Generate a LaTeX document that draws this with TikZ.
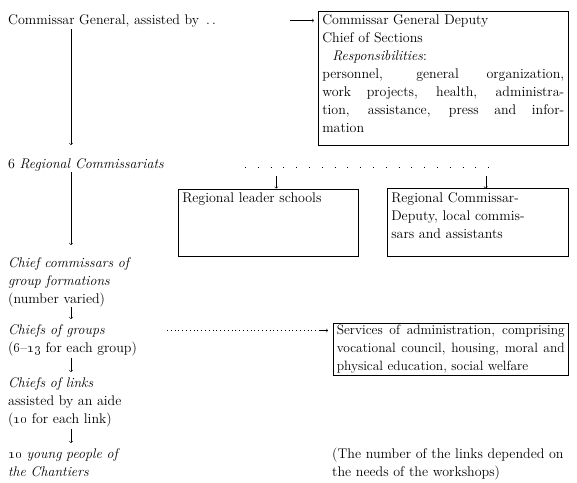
\documentclass[tikz,border=0pt]{standalone}
\begin{document}
\begin{tikzpicture}[x=1pt,y=-1pt,
    font=\fontsize{14}{18}\selectfont,
    txt/.style={anchor=base west,inner sep=0pt},
    txtblock/.style={anchor=base west,inner sep=0pt,text width=#1,align=left},
    txtblock/.default=220pt,
    boxed/.style={draw,line width=0.5pt,anchor=base west,inner xsep=4pt,
      inner ysep=3pt,text width=#1},
    arr/.style={->,line width=0.5pt},
    lead/.style={line width=0.7pt,dash pattern=on 0.8pt off 12pt}]
  \useasboundingbox (0,0) rectangle (577,482);
  \coordinate (spine) at (71,0);
  % top level and its deputy
  \node[txt] (cg) at (8,24) {Commissar General, assisted by\enspace.\,.};
  \node[boxed=242pt,align=justify,text depth=118pt] (dep) at (318,24)
    {Commissar General Deputy\\
     Chief of Sections\\
     \hspace*{10pt}\textit{Responsibilities}:\\
     personnel, general organization,\linebreak
     work projects, health, administra-\linebreak
     tion, assistance, press and infor-\linebreak
     mation};
  \draw[arr] ([xshift=-28pt]dep.west |- cg.east) -- ([xshift=-4pt]dep.west |- cg.east);
  % regional level
  \node[txt] (rc) at (8,168) {6 \textit{Regional Commissariats}};
  \draw[arr,shorten <=2pt,shorten >=13pt] (cg.south -| spine) -- (rc.north -| spine);
  \coordinate (lead1) at (245,167);
  \coordinate (lead1e) at (500,167);
  \draw[lead] (lead1) -- (lead1e);
  \node[boxed=172pt,align=left,inner ysep=3.5pt,text depth=50.5pt] (school) at (178,202)
    {Regional leader schools};
  \node[boxed=173pt,align=left,inner ysep=3.5pt,text depth=50.5pt] (rdep) at (387,202)
    {Regional Commissar-\\
     Deputy, local commis-\\
     sars and assistants};
  \draw[arr,shorten <=9pt] ([xshift=8pt]school.north |- lead1) -- ([xshift=8pt]school.north);
  \draw[arr,shorten <=9pt] ([xshift=8pt]rdep.north |- lead1) -- ([xshift=8pt]rdep.north);
  % group formations
  \node[txtblock] (ccg) at (8,267)
    {\textit{Chief commissars of}\\
     \textit{group formations}\\
     (number varied)};
  \draw[arr,shorten <=1pt,shorten >=12pt] (rc.south -| spine) -- (ccg.north -| spine);
  % groups
  \node[txt] (grp) at (8,334) {\textit{Chiefs of groups}};
  \node[txt] (grpn) at (8,352) {(\oldstylenums{6}--\oldstylenums{13} for each group)};
  \draw[arr,shorten >=5pt] (ccg.south -| spine) -- (grp.north -| spine);
  \node[boxed=228pt,inner xsep=3.5pt,align=justify,inner ysep=1.5pt,text depth=40pt,
    font=\fontsize{13.5}{18}\selectfont] (serv) at (333,334)
    {Services of administration, comprising\linebreak
     vocational council, housing, moral and\linebreak
     physical education, social welfare};
  \draw[lead,dash pattern=on 0.8pt off 3pt] ([xshift=62pt]grp.east) -- ([xshift=-6pt]serv.west |- grp.east);
  \draw[arr] ([xshift=-14pt]serv.west |- grp.east) -- ([xshift=-5pt]serv.west |- grp.east);
  % links
  \node[txtblock] (col) at (8,387)
    {\textit{Chiefs of links}\\
     assisted by an aide\\
     (\oldstylenums{10} for each link)};
  \draw[arr,shorten <=2pt,shorten >=5pt] (grpn.south -| spine) -- (col.north -| spine);
  % young people
  \node[txtblock] (yp) at (8,458)
    {\textit{\oldstylenums{10} young people of}\\
     \textit{the Chantiers}};
  \draw[arr,shorten <=2pt,shorten >=5pt] (col.south -| spine) -- (yp.north -| spine);
  \node[txtblock=238pt] (note) at (332,458)
    {(The number of the links depended on\\
     the needs of the workshops)};
\end{tikzpicture}
\end{document}
